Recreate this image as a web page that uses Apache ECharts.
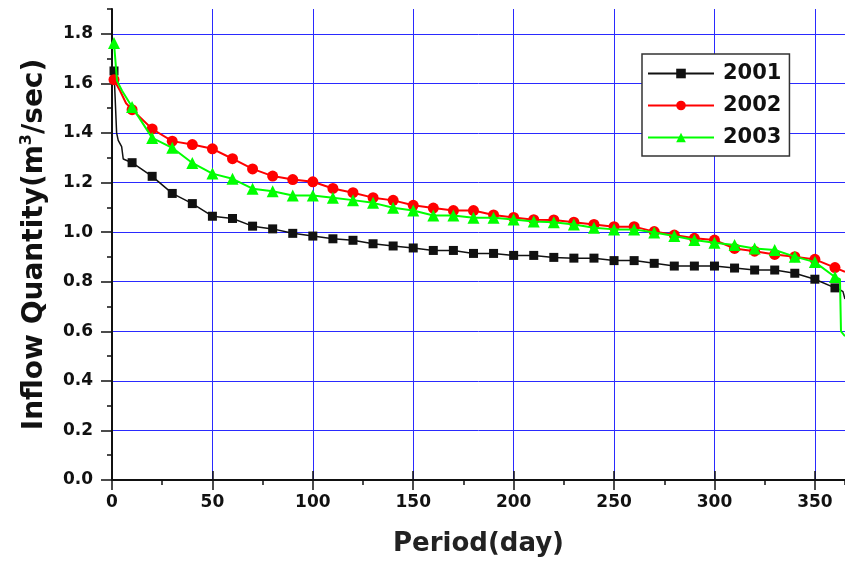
<!DOCTYPE html>
<html>
<head>
<meta charset="utf-8">
<script src="https://cdn.jsdelivr.net/npm/echarts@6/dist/echarts.min.js"></script>
<style>
html,body{margin:0;padding:0;background:#fff;}
#chart{width:845px;height:564px;}
</style>
</head>
<body>
<div id="chart"></div>
<script>
// ---- data ----
const seriesNames = ['2001', '2002', '2003'];
const markerDays = [1, 10, 20, 30, 40, 50, 60, 70, 80, 90, 100, 110, 120, 130, 140, 150, 160, 170, 180,
  190, 200, 210, 220, 230, 240, 250, 260, 270, 280, 290, 300, 310, 320, 330, 340, 350, 360];
const flow2001 = [1.65, 1.28, 1.225, 1.156, 1.115, 1.064, 1.055, 1.024, 1.013, 0.995, 0.984, 0.973, 0.967,
  0.953, 0.944, 0.936, 0.926, 0.926, 0.914, 0.914, 0.906, 0.906, 0.898, 0.895, 0.895, 0.885, 0.885,
  0.874, 0.863, 0.863, 0.863, 0.855, 0.847, 0.847, 0.834, 0.81, 0.775];
const flow2002 = [1.615, 1.494, 1.416, 1.367, 1.353, 1.336, 1.296, 1.255, 1.226, 1.212, 1.203, 1.176, 1.159,
  1.139, 1.128, 1.108, 1.097, 1.087, 1.087, 1.069, 1.059, 1.050, 1.049, 1.040, 1.031, 1.022, 1.022,
  1.002, 0.988, 0.975, 0.968, 0.934, 0.923, 0.910, 0.901, 0.890, 0.857];
const flow2003 = [1.763, 1.505, 1.380, 1.340, 1.279, 1.236, 1.215, 1.175, 1.165, 1.148, 1.148, 1.139, 1.129,
  1.118, 1.098, 1.087, 1.067, 1.067, 1.058, 1.058, 1.051, 1.043, 1.040, 1.031, 1.018, 1.011, 1.011,
  0.998, 0.984, 0.968, 0.957, 0.948, 0.934, 0.928, 0.901, 0.879, 0.819];
// unmarked points of the curves between / beyond the markers: [day, value]
const extra2001 = [[2.3, 1.40], [3.1, 1.37], [4.8, 1.345], [5.6, 1.295], [362, 0.77], [364, 0.76], [365, 0.73]];
const extra2002 = [[4, 1.57], [7, 1.52], [365, 0.84]];
const extra2003 = [[2.5, 1.61], [5, 1.57], [362.5, 0.81], [363, 0.60], [365, 0.58]];
const xTicks = [0, 50, 100, 150, 200, 250, 300, 350];
const yTicks = [0, 0.2, 0.4, 0.6, 0.8, 1.0, 1.2, 1.4, 1.6, 1.8];

function buildData(values, extra) {
  const pts = markerDays.map((d, i) => ({ value: [d, values[i]] }));
  extra.forEach(p => pts.push({ value: p, symbol: 'none' }));
  pts.sort((a, b) => a.value[0] - b.value[0]);
  return pts;
}

const FONT = 'DejaVu Sans';
const chart = echarts.init(document.getElementById('chart'), null, { renderer: 'canvas' });

const styles = [
  { color: '#111111', symbol: 'rect', size: 9, width: 1.5 },
  { color: '#ff0000', symbol: 'circle', size: 11, width: 2 },
  { color: '#00ff00', symbol: 'triangle', size: 12, width: 2 }
];
const allValues = [flow2001, flow2002, flow2003];
const allExtra = [extra2001, extra2002, extra2003];

chart.setOption({
  backgroundColor: '#ffffff',
  animation: false,
  textStyle: { fontFamily: FONT },
  grid: { left: 112, right: 0, top: 9, bottom: 84, containLabel: false },
  legend: {
    orient: 'vertical',
    left: 642,
    top: 54,
    padding: [9, 8, 8, 5],
    itemGap: 11,
    itemWidth: 66,
    itemHeight: 12,
    borderColor: '#333',
    borderWidth: 1.5,
    backgroundColor: '#fff',
    textStyle: { fontFamily: FONT, fontWeight: 'bold', fontSize: 21, color: '#111', padding: [0, 0, 0, 4] },
    data: seriesNames
  },
  xAxis: [
    {
      type: 'value', min: 0, max: 365, interval: 50,
      name: 'Period(day)', nameLocation: 'middle', nameGap: 51,
      nameTextStyle: { fontFamily: FONT, fontWeight: 'bold', fontSize: 26, color: '#222' },
      axisLine: { show: true, onZero: false, lineStyle: { color: '#111', width: 2 } },
      axisTick: { show: true, length: 10, customValues: xTicks, lineStyle: { color: '#111', width: 1.5 } },
      axisLabel: { customValues: xTicks, margin: 14, fontFamily: FONT, fontWeight: 'bold', fontSize: 17, color: '#111' },
      splitLine: { show: true, lineStyle: { color: '#2a2aff', width: 1 } }
    },
    {
      type: 'value', min: 0, max: 365, interval: 25, position: 'bottom',
      axisLine: { show: false },
      axisTick: { show: true, length: 5, lineStyle: { color: '#111', width: 1.5 } },
      axisLabel: { show: false },
      splitLine: { show: false }
    },
    {
      type: 'value', min: 0, max: 365, interval: 50, position: 'bottom',
      axisLine: { show: false },
      axisTick: { show: true, inside: true, length: 9, customValues: xTicks, lineStyle: { color: '#111', width: 1.5 } },
      axisLabel: { show: false },
      splitLine: { show: false }
    }
  ],
  yAxis: [
    {
      type: 'value', min: 0, max: 1.9, interval: 0.2, position: 'left',
      name: 'Inflow Quantity(m{sup|3}/sec)', nameLocation: 'middle', nameGap: 62, nameRotate: 90,
      nameTextStyle: {
        fontFamily: FONT, fontWeight: 'bold', fontSize: 28, color: '#111',
        rich: { sup: { fontFamily: FONT, fontWeight: 'bold', fontSize: 16, color: '#111', padding: [0, 0, 15, 0] } }
      },
      axisLine: { show: true, onZero: false, lineStyle: { color: '#111', width: 2 } },
      axisTick: { show: true, length: 11, customValues: yTicks, lineStyle: { color: '#111', width: 1.5 } },
      axisLabel: { customValues: yTicks, formatter: v => v.toFixed(1), margin: 19, fontFamily: FONT, fontWeight: 'bold', fontSize: 17, color: '#111' },
      splitLine: { show: true, lineStyle: { color: '#2a2aff', width: 1 } }
    },
    {
      type: 'value', min: 0, max: 1.9, interval: 0.1, position: 'left',
      axisLine: { show: false },
      axisTick: { show: true, length: 5, lineStyle: { color: '#111', width: 1.5 } },
      axisLabel: { show: false },
      splitLine: { show: false }
    }
  ],
  series: seriesNames.map((name, i) => ({
    name: name,
    type: 'line',
    xAxisIndex: 0,
    yAxisIndex: 0,
    data: buildData(allValues[i], allExtra[i]),
    symbol: styles[i].symbol,
    symbolSize: styles[i].size,
    showAllSymbol: true,
    color: styles[i].color,
    lineStyle: { color: styles[i].color, width: styles[i].width },
    itemStyle: { color: styles[i].color },
    z: 3 + i
  }))
});
</script>
</body>
</html>
